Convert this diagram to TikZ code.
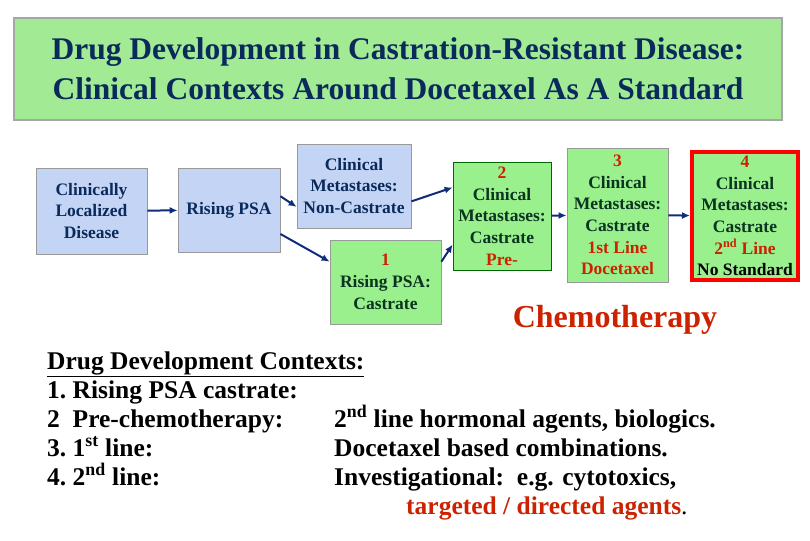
\documentclass[tikz,border=0pt]{standalone}
\usepackage{fontspec}
\setmainfont{Liberation Serif}
\usetikzlibrary{arrows.meta}
\definecolor{navy}{HTML}{0A2A5C}
\definecolor{dgreen}{HTML}{0A3320}
\definecolor{myred}{HTML}{CC2200}
\definecolor{blu}{HTML}{C4D4F4}
\definecolor{grn}{HTML}{99F08C}
\definecolor{ttl}{HTML}{A2EA94}
\definecolor{arr}{HTML}{0F2C7A}
\tikzset{
 bx/.style={draw=gray!80,line width=0.8pt,align=center,font=\fontsize{17.5}{21.7}\selectfont\bfseries,inner sep=0pt},
 bb/.style={bx,fill=blu,text=navy},
 gb/.style={bx,fill=grn,text=dgreen},
 ar/.style={-{Latex[length=8pt,width=7pt]},draw=arr,line width=2pt},
 tx/.style={anchor=base west,font=\fontsize{25.5}{28}\selectfont\bfseries,text=black,inner sep=0pt}
}
\begin{document}
\begin{tikzpicture}[x=1pt,y=-1pt]
\useasboundingbox (0,0) rectangle (810,540);
\node[draw=gray!70,line width=1.2pt,fill=ttl,minimum width=768pt,minimum height=102pt,align=center,font=\fontsize{31.5}{40}\selectfont\bfseries,text=navy] (title) at (398,69) {Drug Development in Castration-Resistant Disease:\\Clinical Contexts Around Docetaxel As A Standard};
\node[bb,minimum width=111pt,minimum height=86pt] (a) at (91.5,211) {Clinically\\Localized\\Disease};
\node[bb,minimum width=102pt,minimum height=84pt] (b) at (229,210) {Rising PSA};
\node[bb,minimum width=114pt,minimum height=84pt] (c) at (354,186) {Clinical\\Metastases:\\Non-Castrate};
\node[gb,minimum width=111pt,minimum height=84pt] (d) at (385.5,282) {\textcolor{myred}{1}\\Rising PSA:\\Castrate};
\node[gb,draw=green!40!black,minimum width=98pt,minimum height=108pt] (e) at (502,216) {\textcolor{myred}{2}\\Clinical\\Metastases:\\Castrate\\\textcolor{myred}{Pre-}};
\node[gb,minimum width=101pt,minimum height=134pt] (f) at (617.5,215) {\textcolor{myred}{3}\\Clinical\\Metastases:\\Castrate\\\textcolor{myred}{1st Line}\\\textcolor{myred}{Docetaxel}};
\node[gb,draw=red,line width=4pt,minimum width=106pt,minimum height=128pt] (g) at (745,216) {\textcolor{myred}{4}\\Clinical\\Metastases:\\Castrate\\\textcolor{myred}{2\textsuperscript{nd} Line}\\\textcolor{black}{No Standard}};
\draw[ar] (a) -- (b);
\draw[ar] (b.15) -- (c.200);
\draw[ar] (b.-25) -- (d.160);
\draw[ar] (c.-15) -- (e.150);
\draw[ar] (d.20) -- (e.-150);
\draw[ar] (e) -- (f);
\draw[ar] (f) -- (g);
\node[font=\fontsize{32}{34}\selectfont\bfseries,text=myred] (chemo) at (615,320) {Chemotherapy};
\node[tx] (h) at (47,369) {\underline{Drug Development Contexts:}};
\node[tx] (l1) at (47,398) {1.\ Rising PSA castrate:};
\node[tx] (l2) at (47,427) {2\ \ Pre-chemotherapy:};
\node[tx] (l3) at (47,456) {3.\ 1\textsuperscript{st} line:};
\node[tx] (l4) at (47,485) {4.\ 2\textsuperscript{nd} line:};
\node[tx] (r2) at (334,427) {2\textsuperscript{nd} line hormonal agents, biologics.};
\node[tx] (r3) at (334,456) {Docetaxel based combinations.};
\node[tx] (r4) at (334,485) {Investigational:\ \ e.g. cytotoxics,};
\node[tx] (r5) at (406,514) {\textcolor{myred}{targeted / directed agents}\textmd{.}};
\end{tikzpicture}
\end{document}
